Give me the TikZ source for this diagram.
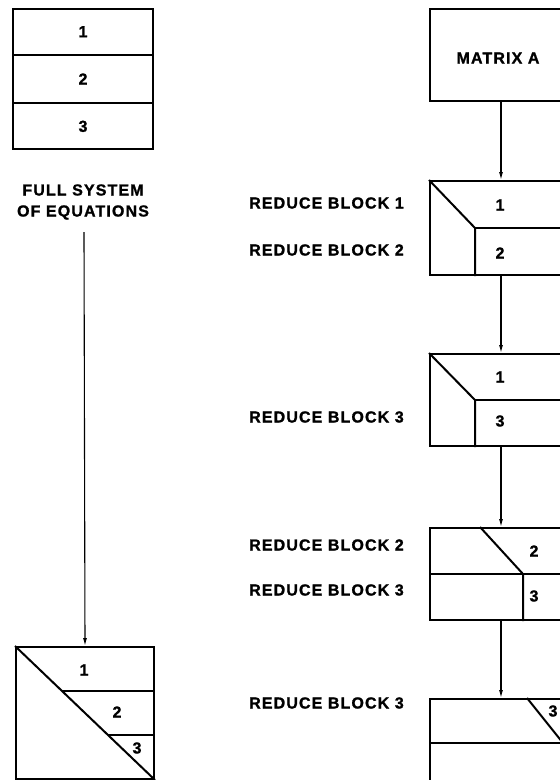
\documentclass[tikz,border=0pt]{standalone}
\usepackage{fontspec}
\newfontfamily\lettering{Liberation Sans}[LetterSpace=7, BoldFeatures={FakeBold=1.2}]
\usetikzlibrary{arrows.meta, positioning, calc}
\tikzset{
  sysbox/.style={rectangle,draw,line width=2pt,inner sep=0pt,anchor=north west},
  stepbox/.style={rectangle,draw,line width=2pt,inner sep=0pt,minimum width=142pt,minimum height=92pt,anchor=north west},
  lbl/.style={font=\lettering\bfseries\fontsize{16}{21}\selectfont,inner sep=0pt},
  div/.style={line width=2pt},
  arr/.style={-{Latex[length=8pt,width=4pt]},line width=1.1pt}
}

\begin{document}
\begin{tikzpicture}[x=1pt,y=-1pt]
  \useasboundingbox (0,0) rectangle (560,780);
  \clip (0,0) rectangle (560,780);

  % full system of equations
  \node[sysbox, minimum width=140pt, minimum height=140pt] (full) at (12,8) {};
  \draw[div] ($(full.north west)!1/3!(full.south west)$) -- ($(full.north east)!1/3!(full.south east)$);
  \draw[div] ($(full.north west)!2/3!(full.south west)$) -- ($(full.north east)!2/3!(full.south east)$);
  \node[lbl] (f1) at ($(full.north)!1/6!(full.south)$) {1};
  \node[lbl] (f2) at (full.center) {2};
  \node[lbl] (f3) at ($(full.north)!5/6!(full.south)$) {3};
  \node[lbl, align=center] (fulltxt) at (83,202) {FULL SYSTEM\\OF EQUATIONS};

  \node[sysbox, minimum width=138pt, minimum height=132pt] (tri) at (15,646) {};
  \draw[div] (tri.north west) -- (tri.south east);
  \draw[div] ($(tri.north west)!1/3!(tri.south east)$) -- ($(tri.north east)!1/3!(tri.south east)$);
  \draw[div] ($(tri.north west)!2/3!(tri.south east)$) -- ($(tri.north east)!2/3!(tri.south east)$);
  \node[lbl] (t1) at (84,670) {1};
  \node[lbl] (t2) at (117,712) {2};
  \node[lbl] (t3) at (137,748) {3};

  \coordinate (fstart) at (84,232);
  \draw[arr] (fstart) -- (tri.north);

  % block by block reduction
  \node[stepbox] (matA) at (429,8) {};
  \node[lbl] (matAtxt) at (498,58) {MATRIX A};

  \node[stepbox, minimum height=94pt, below=78pt of matA] (s1) {};
  \draw[div] (s1.north west) -- ($(s1.west)+(46,0)$) -- ($(s1.south west)+(46,0)$);
  \draw[div] ($(s1.west)+(46,0)$) -- (s1.east);
  \node[lbl] (s1a) at ($(s1.north west)+(71,25)$) {1};
  \node[lbl] (s1b) at ($(s1.north west)+(71,73)$) {2};

  \node[stepbox, below=77pt of s1] (s2) {};
  \draw[div] (s2.north west) -- ($(s2.west)+(46,0)$) -- ($(s2.south west)+(46,0)$);
  \draw[div] ($(s2.west)+(46,0)$) -- (s2.east);
  \node[lbl] (s2a) at ($(s2.north west)+(71,24)$) {1};
  \node[lbl] (s2b) at ($(s2.north west)+(71,68)$) {3};

  \node[stepbox, below=80pt of s2] (s3) {};
  \draw[div] ($(s3.north west)+(51,0)$) -- ($(s3.west)+(94,0)$) -- ($(s3.south west)+(94,0)$);
  \draw[div] (s3.west) -- (s3.east);
  \node[lbl] (s3a) at ($(s3.north west)+(105,24)$) {2};
  \node[lbl] (s3b) at ($(s3.north west)+(105,69)$) {3};

  \node[stepbox, minimum height=88pt, below=77pt of s3] (s4) {};
  \draw[div] ($(s4.north west)+(98,0)$) -- ($(s4.west)+(134,0)$);
  \draw[div] (s4.west) -- (s4.east);
  \node[lbl] (s4a) at ($(s4.north west)+(124,13)$) {3};

  \draw[arr] (matA.south) -- (s1.north);
  \draw[arr] (s1.south) -- (s2.north);
  \draw[arr] (s2.south) -- (s3.north);
  \draw[arr] (s3.south) -- (s4.north);

  \node[lbl, anchor=west] (r1) at (249,203) {REDUCE BLOCK 1};
  \node[lbl, anchor=west] (r2) at (249,250) {REDUCE BLOCK 2};
  \node[lbl, anchor=west] (r3) at (249,417) {REDUCE BLOCK 3};
  \node[lbl, anchor=west] (r4) at (249,545) {REDUCE BLOCK 2};
  \node[lbl, anchor=west] (r5) at (249,590) {REDUCE BLOCK 3};
  \node[lbl, anchor=west] (r6) at (249,703) {REDUCE BLOCK 3};
\end{tikzpicture}
\end{document}
